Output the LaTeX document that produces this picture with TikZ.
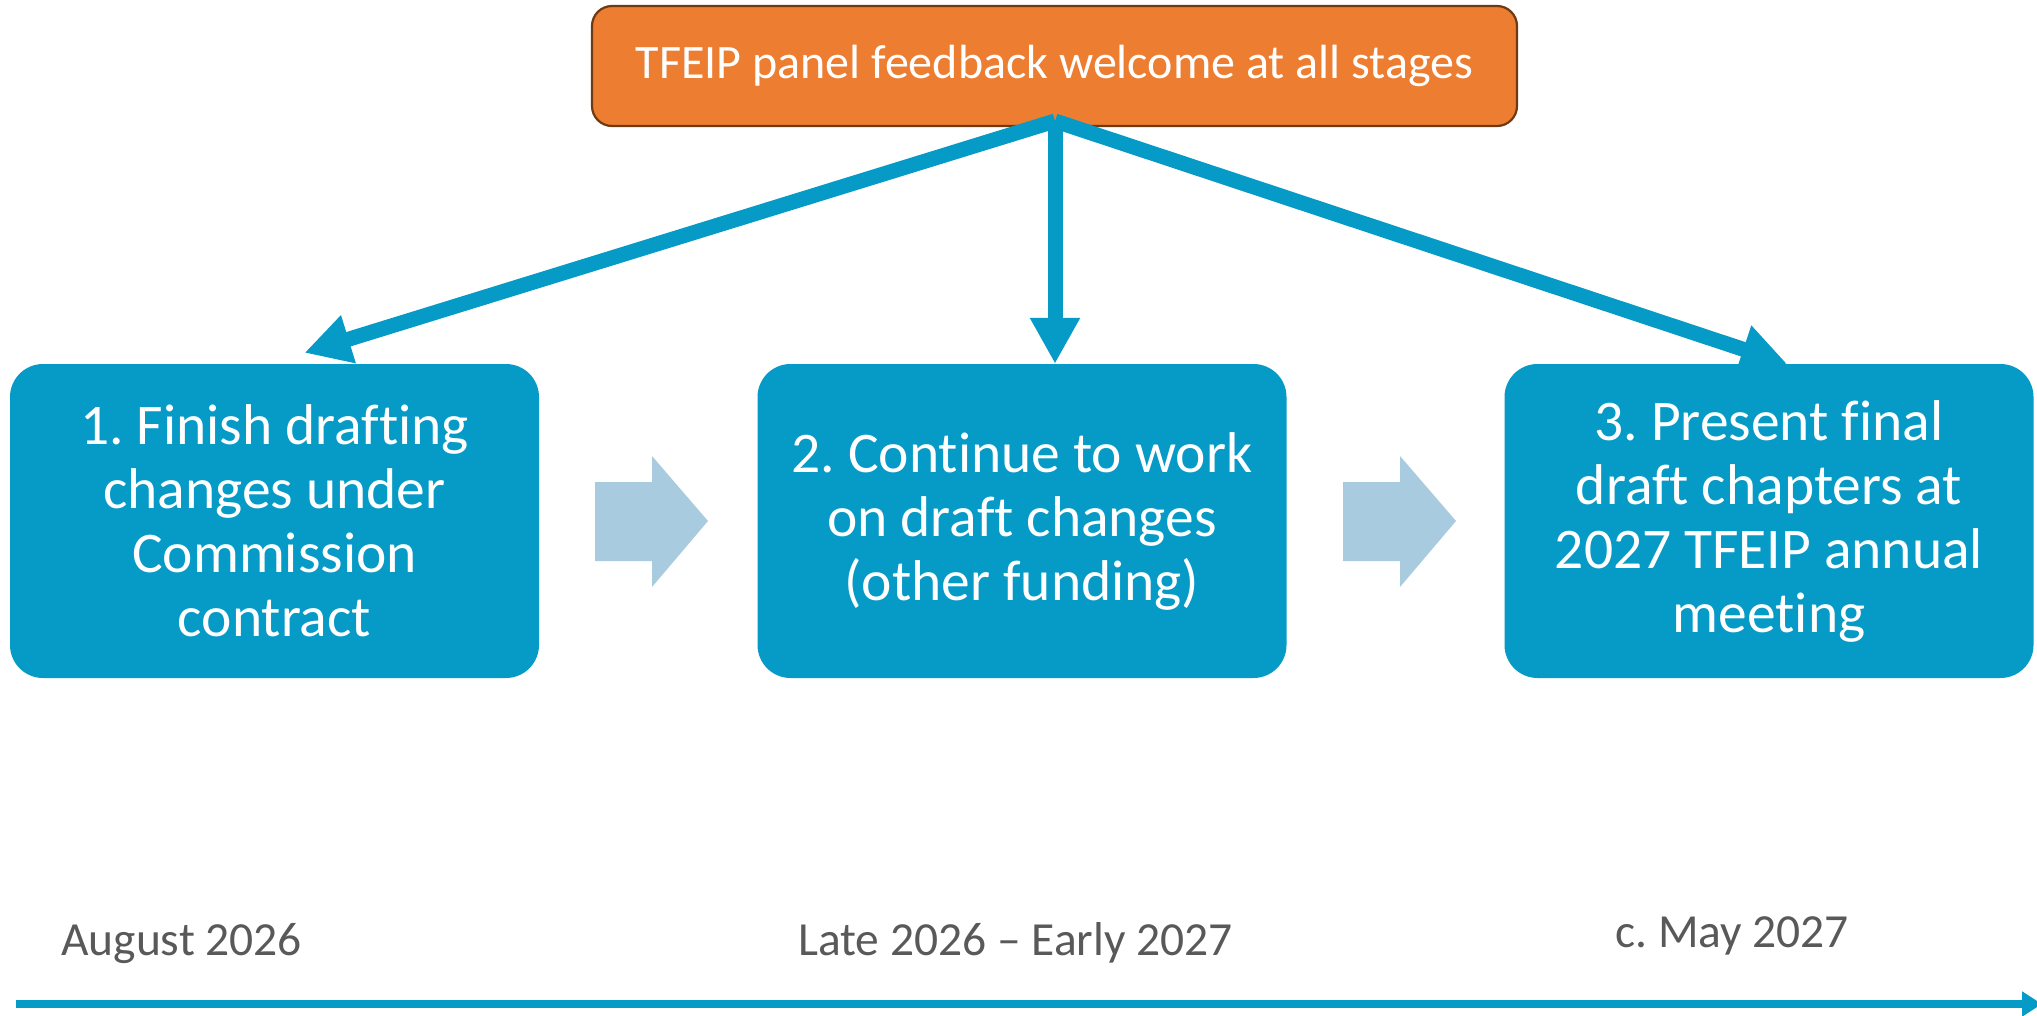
\documentclass[tikz,border=0pt]{standalone}
\usepackage{fontspec}
\setmainfont{Carlito}[Ligatures={NoCommon}]
\frenchspacing
\usetikzlibrary{arrows.meta,calc}
\definecolor{boxblue}{HTML}{069AC7}
\definecolor{fborange}{HTML}{ED7D31}
\definecolor{fbbrown}{HTML}{6E3A12}
\definecolor{chevblue}{HTML}{A9CBE0}
\definecolor{dategray}{HTML}{595959}
\tikzset{
  stepbox/.style={fill=boxblue, rounded corners=33pt, minimum width=529pt, minimum height=314pt,
    inner sep=0pt, text=white, font=\fontsize{57.5}{64}\selectfont, align=center},
  fbbox/.style={fill=fborange, draw=fbbrown, line width=2.2pt, rounded corners=20pt,
    minimum width=925pt, minimum height=120pt, inner sep=0pt, text=white,
    font=\fontsize{48}{58}\selectfont},
  fbarrow/.style={draw=boxblue, line width=15pt, -{Triangle[length=46pt,width=47pt]}},
  chev/.style={fill=chevblue},
  datelabel/.style={text=dategray, inner sep=0pt, anchor=base west, font=\fontsize{47.5}{56}\selectfont},
  timeline/.style={draw=boxblue, line width=8pt, -{Triangle[length=20pt,width=24pt]}}
}
\begin{document}
\begin{tikzpicture}[x=1pt,y=-1pt]
\useasboundingbox (0,0) rectangle (2037,1015);
% boxes
\node[stepbox] (s1) at (274.5,521) {1. Finish drafting\\changes under\\Commission\\contract};
\node[stepbox] (s2) at (1022,521) {2. Continue to work\\on draft changes\\(other funding)};
\node[stepbox] (s3) at (1769,521) {3. Present final\\draft chapters at\\2027 TFEIP annual\\meeting};
\node[fbbox] (fb) at (1054.5,66) {TFEIP panel feedback welcome at all stages};
% feedback arrows
\coordinate (apex) at (1055,121);
\draw[fbarrow] (apex) -- ($(s1.north)+(30,-11)$);
\draw[fbarrow] (apex) -- ($(s2.north)+(33,0)$);
\draw[fbarrow] (apex) -- ($(s3.north)+(18,0)$);
% chevrons
\fill[chev] (595,482) -- (652,482) -- (652,456) -- (708,521) -- (652,587) -- (652,561) -- (595,561) -- cycle;
\fill[chev] (1343,482) -- (1400,482) -- (1400,456) -- (1456,521) -- (1400,587) -- (1400,561) -- (1343,561) -- cycle;
% dates
\node[datelabel] (d1) at (61,955) {August 2026};
\node[datelabel] (d2) at (798,955) {Late 2026 – Early 2027};
\node[datelabel] (d3) at (1615,947) {c. May 2027};
% timeline
\coordinate (tl0) at (16,1004);
\coordinate (tl1) at (2042,1004);
\draw[timeline] (tl0) -- (tl1);
\end{tikzpicture}
\end{document}
